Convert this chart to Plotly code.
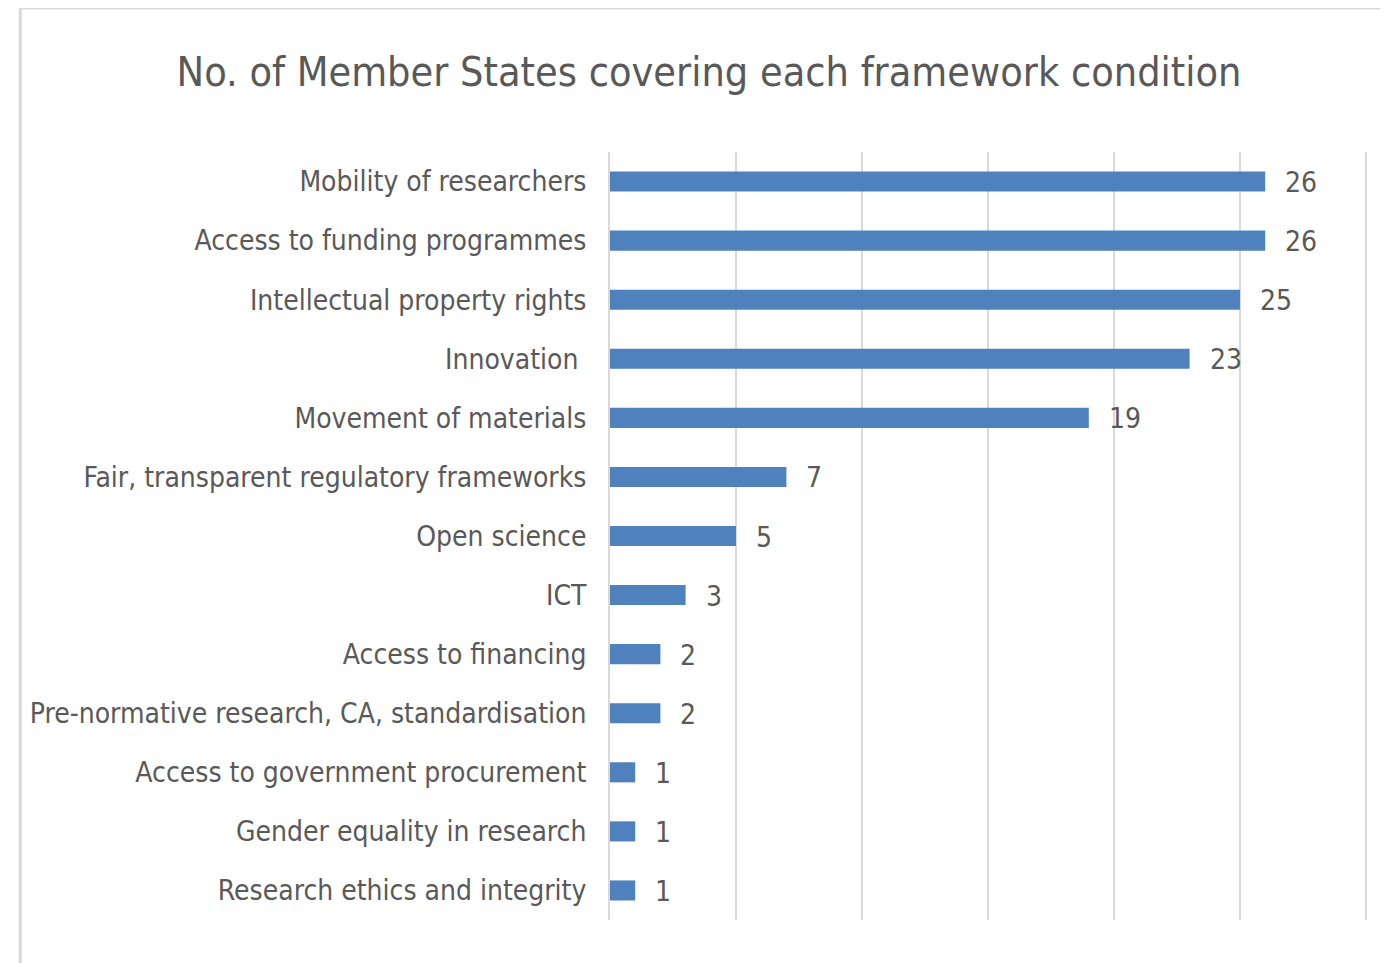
import plotly.graph_objects as go

categories = [
    "Mobility of researchers",
    "Access to funding programmes",
    "Intellectual property rights",
    "Innovation\u00a0",
    "Movement of materials",
    "Fair, transparent regulatory frameworks",
    "Open science",
    "ICT",
    "Access to financing",
    "Pre-normative research, CA, standardisation",
    "Access to government procurement",
    "Gender equality in research",
    "Research ethics and integrity",
]
values = [26, 26, 25, 23, 19, 7, 5, 3, 2, 2, 1, 1, 1]
title_text = "No. of Member States covering each framework condition"

FONT = "DejaVu Sans Condensed, Liberation Sans Narrow, sans-serif"
GREY = "#595959"

fig = go.Figure()
fig.add_trace(go.Bar(
    x=values, y=categories, orientation="h",
    marker=dict(color="#4f81bd", line=dict(width=0)),
    width=0.34, hoverinfo="x+y",
))

for c, v in zip(categories, values):
    fig.add_annotation(x=v, y=c, text=str(v), showarrow=False,
                       xanchor="left", yanchor="middle", xshift=18, yshift=-1,
                       font=dict(family=FONT, size=28, color=GREY))

# outer chart border (right side runs past the visible area)
fig.add_shape(type="rect", xref="paper", yref="paper",
              x0=-0.778, x1=1.04, y0=-0.2, y1=1.1875,
              line=dict(color="#d9d9d9", width=3), fillcolor="rgba(0,0,0,0)", layer="below")

fig.update_layout(
    width=1380, height=955, autosize=False,
    margin=dict(l=602, r=20, t=144, b=43, autoexpand=False),
    paper_bgcolor="white", plot_bgcolor="white",
    showlegend=False,
    title=dict(text=title_text, x=0.508, xanchor="center", y=0.933, yanchor="middle",
               font=dict(family=FONT, size=41, color=GREY)),
    xaxis=dict(range=[0, 30.08], dtick=5, tick0=0, showticklabels=False, showgrid=True, automargin=False,
               gridcolor="#d9d9d9", gridwidth=2, zeroline=False, showline=False, fixedrange=True),
    yaxis=dict(autorange="reversed", showgrid=False, zeroline=False, automargin=False,
               showline=True, linecolor="#d9d9d9", linewidth=2,
               ticks="", ticklabelstandoff=16,
               tickfont=dict(family=FONT, size=28, color=GREY)),
    font=dict(family=FONT),
)

fig.write_html("out.html")
